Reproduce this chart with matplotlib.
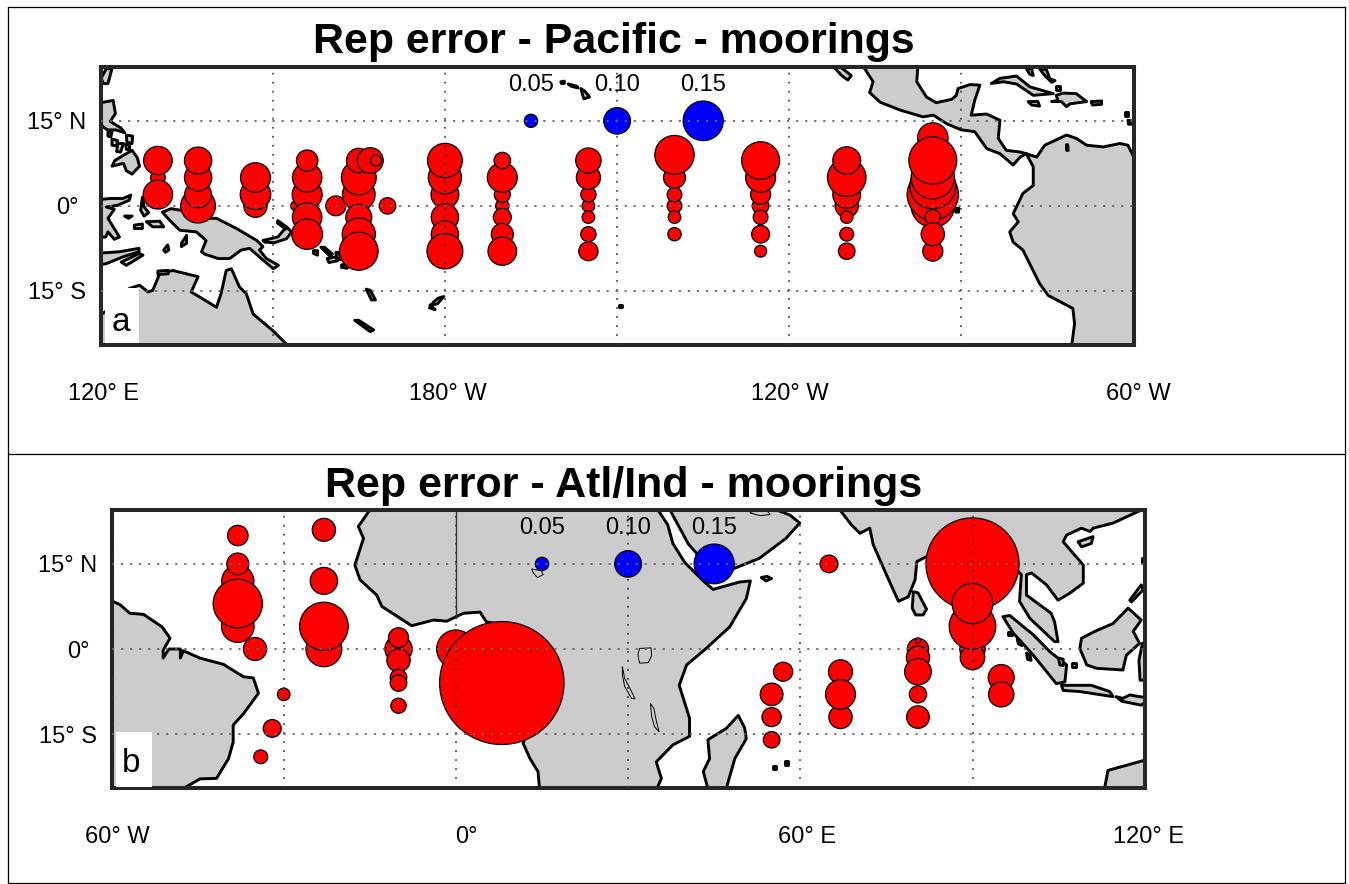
# Rep error maps for the Pacific and Atl/Ind moorings
import matplotlib
matplotlib.use('Agg')
import matplotlib.pyplot as plt
from matplotlib.lines import Line2D
from matplotlib.patches import Circle, Rectangle
from matplotlib.transforms import ScaledTranslation

plt.rcParams['font.family'] = ['Liberation Sans', 'DejaVu Sans']

W, H = 1349, 884
LAND = '#cccccc'
FRAME = '#262626'
ERR_TO_DEG = 23.3   # circle radius in degrees lon per unit of error

# Pacific moorings, in draw order
pac_lon = [130, 130, 130,
           137, 137, 137, 137,
           147, 147, 147,
           154, 161, 170,
           156, 156, 156, 156, 156,
           165, 165, 165, 165, 165, 165,
           167, 168,
           180, 180, 180, 180, 180, 180,
           190, 190, 190, 190, 190, 190, 190,
           205, 205, 205, 205, 205, 205, 205,
           220, 220, 220, 220, 220, 220,
           235, 235, 235, 235, 235, 235, 235,
           250, 250, 250, 250, 250, 250, 250,
           265, 265, 265, 265, 265, 265, 265, 265, 265]
pac_lat = [5, 8, 2,
           0, 2, 5, 8,
           0, 2, 5,
           0, 0, 0,
           2, 5, 8, -2, -5,
           2, 5, 8, -2, -5, -8,
           8, 8,
           2, 5, 8, -2, -5, -8,
           0, 2, 5, 8, -2, -5, -8,
           0, 2, 5, 8, -2, -5, -8,
           0, 2, 5, 9, -2, -5,
           0, 2, 5, 8, -2, -5, -8,
           0, 2, 5, 8, -2, -5, -8,
           0, 2, 3.5, 5, 12, 8, -2, -8, -5]
pac_err = [.055, .107, .110,
           .130, .100, .102, .102,
           .087, .114, .112,
           .037, .075, .062,
           .112, .110, .080, .110, .115,
           .122, .130, .092, .097, .124, .144,
           .097, .042,
           .104, .124, .130, .102, .102, .134,
           .050, .060, .112, .062, .067, .082, .107,
           .047, .057, .090, .095, .047, .057, .072,
           .055, .055, .082, .147, .047, .050,
           .062, .075, .112, .142, .055, .067, .045,
           .087, .104, .144, .104, .047, .052, .062,
           .162, .192, .172, .162, .114, .179, .057, .075, .087]

# Atlantic / Indian moorings, in draw order
atl_lon = [-38, -38, -38, -38, -38,
           -35,
           -23, -23, -23, -23,
           -30, -32, -34,
           -10, -10, -10, -10, -10, -10,
           0, 8,
           57, 55, 55, 55,
           65,
           67, 67, 67,
           80.5, 80.5, 80.5, 80.5, 80.5, 80.5,
           90, 90, 90, 90, 90,
           95, 95]
atl_lat = [4, 12, 20, 15, 8,
           0,
           0, 4, 12, 21,
           -8, -14, -19,
           0, 2, -2, -5, -6, -10,
           0, -6,
           -4, -8, -12, -16,
           15,
           -4, -12, -8,
           0, 1.5, -1.5, -4, -8, -12,
           0, -1.5, 15, 4, 8,
           -5, -8]
atl_err = [.122, .120, .077, .082, .184,
           .087,
           .134, .182, .102, .087,
           .047, .067, .052,
           .102, .075, .087, .062, .062, .057,
           .144, .465,
           .072, .085, .072, .062,
           .067,
           .090, .087, .112,
           .080, .020, .087, .100, .065, .085,
           .095, .092, .348, .174, .152,
           .097, .095]

# scale key
key_err = [0.05, 0.10, 0.15]
key_labels = ['0.05', '0.10', '0.15']
pac_key_lon = [195, 210, 225]
atl_key_lon = [15, 30, 45]
key_lat = 15

# Land for the Pacific panel (lon 120-300)
pac_land = [
    # Philippines
    [(119, 18), (122.2, 18.6), (122.6, 16.3), (121.7, 14.9), (123.6, 13.7), (124.2, 12.9), (122.7, 13.4),
     (121.2, 13.4), (120.4, 14), (119, 15.5)],
    [(124.5, 12.5), (125.6, 12.3), (125.5, 11), (124.6, 11.2)],
    [(122, 11.8), (123, 11.5), (122.8, 10.6), (122, 10.7)],
    [(123, 11), (124, 11), (123.5, 9.5), (122.8, 9.6)],
    [(124.2, 11), (125, 11), (125, 10), (124.4, 10)],
    [(121.3, 13), (122, 13), (121.8, 12.2), (121.3, 12.3)],
    [(123.3, 8.5), (125.5, 9.8), (126.4, 8.5), (126.8, 7), (125.5, 5.6), (124.5, 6.2), (124, 7.5), (122, 7), (122.5, 8)],
    [(120.1, 22.5), (121, 24.2), (122, 24.2), (121.3, 21.6), (120.5, 21.6)],
    [(119, 1.0), (121.6, 1.3), (123.9, 1.3), (125.3, 1.9), (125, 1), (123, 0.1), (121, -0.2), (122.4, -0.6),
     (121.3, -2.2), (122.2, -3.7), (123.3, -5.5), (122.4, -5.9), (121.3, -4.6), (120.9, -5.5), (119, -5.5)],
    [(127.3, 1.5), (127.6, -0.2), (128.4, -1.2), (127.6, -1.8), (127, -0.8)],
    [(124.2, -1.8), (125.5, -1.8), (124.9, -2.2)],
    [(125.9, -3.4), (127.3, -3.2), (127.3, -4), (125.9, -4)],
    [(128, -2.8), (130.3, -2.7), (131, -3.7), (129.1, -3.7)],
    [(134.1, -6.6), (135, -5.2), (135, -6.6), (134.1, -7.2)],
    [(131, -7.8), (131.7, -6.9), (131.9, -7.8), (131.3, -8.2)],
    [(119, -8.4), (123.3, -8.1), (126.7, -7.5), (126.7, -8.1), (123.9, -9), (121, -10.2), (119, -10.5)],
    [(123.6, -9.9), (126.8, -8.4), (127.4, -8.7), (124.5, -10.5)],
    # New Guinea
    [(130.8, -1.1), (132.3, -0.5), (134.1, -0.8), (135.8, -2.2), (140.2, -2.2), (143.7, -4), (147.2, -6.1),
     (148.3, -7.2), (147.7, -7.8), (148.9, -9.3), (151, -10.5), (150.1, -11.1), (148, -9.3), (146, -7.5),
     (144.5, -7.8), (142.5, -9.3), (140.5, -9.3), (138.1, -8.5), (137.6, -8.1), (138.4, -6.1), (136.7, -4.6),
     (133.8, -4.3), (132.3, -2.8), (131.2, -1.6)],
    [(148.3, -6.1), (150.9, -5.5), (152.4, -3.7), (153.3, -4.6), (152.4, -5.8), (150.3, -6.5), (148.6, -6.4)],
    [(150.9, -2.6), (152.5, -3.8), (152.3, -4.1), (150.8, -3)],
    [(157.1, -7.9), (157.8, -7.9), (157.8, -8.7), (157.1, -8.4)],
    [(158.4, -7.3), (159, -7.3), (160.4, -8.5), (160, -8.9)],
    [(159.5, -9.3), (161, -9.0), (161.3, -9.7), (159.8, -10)],
    [(161, -8.2), (161.6, -8.2), (161.8, -9.5), (161.2, -9.3)],
    [(162, -10.4), (163, -10.4), (163, -11), (162, -10.9)],
    [(166.3, -14.7), (167, -14.9), (167.9, -16.6), (167.2, -16.6)],
    [(177.4, -17.5), (178.7, -17.3), (179.8, -16), (178.8, -16.3), (178, -17), (177.3, -18), (178.3, -18.3)],
    [(164.3, -20.2), (165, -20.2), (167.6, -21.9), (167, -22.2)],
    # Australia
    [(125, -14.6), (126.8, -14), (128.3, -15.2), (129.1, -14.9), (130.3, -12), (132.6, -11.4), (137, -12.5),
     (135.8, -15.2), (137.8, -16.4), (140.2, -17.9), (141, -15.5), (141.9, -11.4), (142.8, -11.1), (144.2, -14.3),
     (145.4, -15.5), (146.6, -19.1), (150, -22), (152.4, -24.4), (152.4, -27), (119, -27), (119, -19.8),
     (122, -18), (122.5, -17)],
    [(130, -11.5), (131.8, -11.4), (131.8, -12), (130, -12.1)],
    # Hawaii, Tahiti
    [(200.2, 21.9), (200.8, 22), (200.8, 21.6), (200.3, 21.6)],
    [(201.5, 21.5), (203, 21.1), (203.2, 20.8), (202, 21.1)],
    [(203.7, 20.7), (204.4, 20.2), (205.2, 19.2), (204.2, 18.9), (203.9, 19.9)],
    [(210.4, -17.5), (210.9, -17.5), (210.9, -17.9), (210.4, -17.9)],
    # Baja
    [(247.7, 24.6), (248.8, 24.6), (250.8, 23), (250.2, 22.2), (249.1, 23)],
    # Americas
    [(252, 26), (254.6, 21.9), (254, 20), (255.8, 18.3), (259.3, 16.9), (263.3, 15.7), (265.1, 16), (267.4, 14.5),
     (270, 13.4), (272.3, 13.1), (274.4, 10.1), (276.7, 9.2), (279, 7.2), (280.2, 8.6), (281.3, 9.2), (282.5, 6.9),
     (282.5, 3.6), (280.7, 2.2), (279, -1.4), (279.9, -2.8), (278.4, -4.6), (279, -6.4), (280.7, -7.8),
     (283.6, -13.7), (285.1, -15.8), (289.4, -18.1), (289.7, -20.8), (289.2, -24.6), (289.2, -26), (301, -26),
     (301, 8.6), (300, 8.6), (299, 10.7), (297.6, 11), (294.7, 10.4), (291.8, 10.7), (290, 11.9), (288.3, 12.5),
     (284.5, 10.7), (283.1, 8.6), (281.3, 9.2), (280.2, 9.5), (277.8, 9.8), (276.4, 11.9), (276.7, 15.1),
     (274.4, 16.2), (271.7, 16), (272.3, 18.6), (273.2, 21.3), (271.5, 21.4), (269.4, 20.7), (269.1, 19.5),
     (268.3, 18.8), (265.6, 18.2), (263.9, 19.2), (262.2, 21.9), (262.5, 26)],
    [(288.3, 10.8), (288.5, 10.8), (288.6, 9.8), (288.3, 9.8)],
    # Caribbean
    [(275.2, 21.6), (276.7, 22.5), (279.6, 22.9), (281.9, 21), (286, 19.8), (282.5, 19.5), (279.6, 21.5), (277.3, 21.9)],
    [(286.5, 19.5), (287.7, 19.9), (290, 19.8), (291.8, 18.4), (288.9, 18), (288.3, 17.5), (287.4, 18.4), (285.7, 18.4), (286.8, 18.6)],
    [(281.6, 18.4), (283.3, 18.4), (283.6, 17.6), (282.2, 17.8)],
    [(292.6, 18.4), (294.4, 18.5), (294.4, 17.9), (292.8, 17.8)],
    [(281.3, 24.2), (282.2, 24.2), (282.5, 23), (281.9, 23.2)],
    [(283.6, 24.2), (284.8, 24), (285.4, 22.4), (286.3, 22.1), (285.7, 21.8), (284.5, 23)],
    [(286.5, 21.2), (287.2, 21.2), (287.2, 20.4), (286.5, 20.4)],
    [(298.4, 16.5), (299, 16.5), (299, 15.8), (298.4, 15.8)],
    [(299, 15.1), (299.6, 15), (299.6, 14.4), (299.1, 14.4)],
    [(268.9, -0.5), (269.5, -0.4), (269.5, -1.1), (269, -1.1)],
]

# Land for the Atlantic / Indian panel (lon -60 to 120)
atl_land = [
    # South America
    [(-61, 8.5), (-60, 8.5), (-58.5, 7.8), (-56.8, 6.3), (-54.4, 6.1), (-51.2, 3.9), (-49.8, 1.9), (-51, -0.2),
     (-51, -1.6), (-50, 0), (-48, 0), (-48, -1.6), (-47.5, -0.3), (-44.6, -1.6), (-40.5, -2.7), (-37, -4.9),
     (-35.3, -5.1), (-34.4, -7.8), (-37, -11.4), (-38.8, -13.4), (-38.8, -16.4), (-39.6, -19.3), (-41.7, -22.8),
     (-44.6, -22.9), (-47.5, -24.6), (-47.5, -26), (-61, -26)],
    # Africa
    [(-15, 26), (-15, 24.5), (-17, 21.6), (-16.1, 19.5), (-17.6, 14.8), (-16.7, 12.2), (-13.8, 9.5), (-12.9, 7.5),
     (-7.7, 4.1), (-3.9, 5.1), (-1.6, 4.9), (1.3, 6.3), (4.2, 6.5), (5.3, 4.8), (9, 4), (9.5, 1), (9, -1), (11, -4),
     (12, -6), (13.5, -9), (13.5, -12), (11.7, -16.6), (12.9, -19.3), (14.3, -21.6), (14.6, -24.9), (14.6, -26),
     (34.9, -26), (34.9, -24.9), (35.8, -22.8), (34.9, -19.9), (37.8, -16.9), (40.7, -15.4), (40.7, -12.2),
     (39.9, -9.6), (38.9, -6.4), (40.2, -2.8), (43.6, 0.1), (47.7, 3.9), (50.6, 8.9), (51.3, 12), (49.4, 11.8),
     (44.8, 10.5), (43.1, 12), (39.9, 15.2), (37.8, 18.6), (36.9, 21.9), (35.2, 24.5), (35, 26)],
    # Arabia
    [(37, 26), (37.3, 24.5), (39, 21.3), (40.5, 18.5), (41.9, 16.9), (43, 13), (45, 12.8), (48, 14), (52.9, 16),
     (57.5, 19.5), (59.9, 22.2), (58.2, 23.6), (55.9, 24.5), (55, 26)],
    [(43.9, -16), (47.1, -14), (49.2, -11.7), (50.3, -13.9), (50.6, -15.8), (48.6, -19.3), (47.1, -24.6),
     (46.8, -26), (44, -26), (43.9, -24.6), (43.1, -21.6), (44.2, -19.3)],
    [(53.2, 12.6), (54.2, 12.8), (55, 12.4), (54, 12)],
    [(55.2, -20.7), (55.8, -20.7), (55.8, -21.2), (55.2, -21.2)],
    [(57.3, -19.8), (57.9, -19.8), (57.9, -20.4), (57.3, -20.4)],
    # Asia
    [(66.9, 26), (66.9, 24.5), (68.9, 21.9), (70.4, 20.4), (72.1, 21.3), (72.7, 18.4), (75, 13.1), (77.1, 8.4),
     (78.8, 9.2), (80, 12.2), (80.3, 15.4), (82, 16.3), (85.5, 20.7), (89, 21.3), (92.4, 19.5), (98.5, 13.1),
     (98.2, 8.4), (100, 5.4), (104.3, 1.3), (104.9, 1.3), (104.3, 4.8), (103.7, 6.3), (99.4, 9.5), (99.4, 13.1),
     (100.3, 13.4), (102.9, 11.3), (104.9, 8.6), (106.9, 9.8), (109.3, 11.6), (109.3, 14.8), (105.8, 18.9),
     (106.4, 20.1), (109, 21.3), (110.5, 20.7), (111, 21.3), (114.5, 22.2), (119.4, 24.5), (120, 26)],
    [(108.4, 18.9), (111, 19.8), (110.7, 18.6), (109, 18)],
    [(79.7, 10.1), (80.5, 9.9), (82, 7), (81.4, 6), (80.1, 6), (79.5, 7.2)],
    # Indonesia
    [(95.3, 5.7), (96.5, 5.9), (100.6, 2.5), (103.5, -0.5), (106.4, -2.8), (106.1, -5.8), (104.6, -6.1), (100.6, -1.1), (97.1, 2.8)],
    [(105.5, -6.4), (110.7, -6.4), (113.9, -7.5), (114.5, -8.4), (108.7, -7.5), (105.8, -7.3)],
    [(115, -8.4), (116.2, -8.7), (117.4, -8.1), (119.1, -8.4), (121, -8.7), (119.4, -9.9), (116, -9.2)],
    [(109, 1.9), (111.3, 3.1), (114.5, 4.5), (117.1, 7.2), (119.4, 5.1), (118, 3.1), (119.1, 1), (116.8, -1.1),
     (116.2, -3.7), (111.6, -3.4), (109.9, -2.8), (108.7, 0.1)],
    [(117.4, 8.6), (119.4, 11.3), (119.7, 10.4), (117.7, 8.3)],
    [(119.6, 1), (119, -2), (119.2, -5.5), (121, -5.5), (121, 1)],
    [(113, -26), (113, -24.6), (113.6, -21.4), (116.8, -20.5), (120, -19.6), (121, -19.6), (121, -26)],
    [(119.6, 16), (120.5, 16), (120.5, 15.2), (119.6, 15.2)],
    [(96.2, 3), (96.8, 3), (96.8, 2.4), (96.2, 2.4)],
    [(97.8, 1.7), (98.4, 1.4), (98.6, 0.6), (98, 0.9)],
    [(99.4, -0.7), (100, -1), (100.2, -2), (99.6, -1.8)],
    [(105, -1.6), (105.8, -1.8), (105.8, -2.9), (105.2, -2.8)],
    [(107.3, -2.4), (108.1, -2.4), (108.1, -3.2), (107.4, -3.2)],
]

# Lakes, drawn with a thin outline
atl_lakes = [
    [(32, 0.1), (34, 0.2), (34.1, -1.2), (33.5, -2.4), (32, -2.5), (31.7, -1)],
    [(29, -3.1), (29.4, -5.2), (30.6, -7.5), (31.2, -8.8), (30.6, -8.7), (29.4, -6.6), (29, -4.6)],
    [(33.9, -9.6), (34.5, -10.5), (34.9, -12.6), (35.4, -14.6), (34.6, -13.7), (34.1, -11.9)],
    [(13.2, 14.1), (14.9, 13.8), (15.2, 13.1), (14.2, 12.6), (13.5, 13.4)],
    [(51.2, 24), (52, 24.4), (54.4, 24.2), (54.7, 23.7), (53, 23.5)],
]

lat_ticks = [-15, 0, 15]
lat_labels = ['15° S', '0°', '15° N']


def make_axes(left, right, top, bottom):
    ax = fig.add_axes([left / W, 1 - bottom / H, (right - left) / W, (bottom - top) / H])
    ax.set_ylim(-24.5, 24.5)
    for sp in ax.spines.values():
        sp.set_color(FRAME)
        sp.set_linewidth(2.9)
    ax.set_axisbelow(False)
    ax.grid(True, axis='x', color='#333333', linewidth=1.1, linestyle=(0, (1.2, 4.7)))
    ax.grid(True, axis='y', color='#666666', linewidth=1.3, linestyle=(0, (1.2, 3.8)))
    ax.tick_params(length=0, labelsize=17)
    ax.tick_params(axis='x', pad=27.5)
    ax.tick_params(axis='y', pad=10.5)
    ax.set_yticks(lat_ticks)
    ax.set_yticklabels(lat_labels)
    # the 0 label sits further from the axis than the other two
    zero = ax.get_yticklabels()[1]
    zero.set_transform(zero.get_transform() + ScaledTranslation(-7 / 100, 0, fig.dpi_scale_trans))
    return ax


def shift_xlabels(ax, shifts):
    for lab, dx in zip(ax.get_xticklabels(), shifts):
        lab.set_transform(lab.get_transform() + ScaledTranslation(dx / 100, 0, fig.dpi_scale_trans))


def draw_land(ax, polys):
    for poly in polys:
        xs, ys = zip(*poly)
        ax.fill(xs, ys, facecolor=LAND, edgecolor='black', linewidth=2.1, joinstyle='round', zorder=1)


def draw_circles(ax, lons, lats, errs, color):
    for lon, lat, err in zip(lons, lats, errs):
        ax.add_patch(Circle((lon, lat), err * ERR_TO_DEG, facecolor=color, edgecolor='black',
                            linewidth=0.9, zorder=2))


def draw_key(ax, lons):
    draw_circles(ax, lons, [key_lat] * 3, key_err, '#0000ff')
    for lon, label in zip(lons, key_labels):
        ax.text(lon, 21.4, label, fontsize=17, ha='center', va='center', zorder=4)


fig = plt.figure(figsize=(W / 100, H / 100), dpi=100)

# Top panel
ax1 = make_axes(100.5, 1133.7, 67, 344.7)
ax1.set_xlim(120, 300)
ax1.set_xticks([120, 150, 180, 210, 240, 270, 300])
ax1.set_xticklabels(['120° E', '', '180° W', '', '120° W', '', '60° W'])
shift_xlabels(ax1, [3.5, 0, 2.5, 0, 1, 0, 4.5])
draw_land(ax1, pac_land)
draw_circles(ax1, pac_lon, pac_lat, pac_err, '#ff0000')
draw_key(ax1, pac_key_lon)
ax1.add_patch(Rectangle((120.8, -24.2), 5.9, 9.7, facecolor='white', edgecolor='none', zorder=3))
ax1.text(123.6, -20.5, 'a', fontsize=24, ha='center', va='center', zorder=4)

# Bottom panel
ax2 = make_axes(111.5, 1144.7, 510, 788)
ax2.set_xlim(-60, 120)
ax2.set_xticks([-60, -30, 0, 30, 60, 90, 120])
ax2.set_xticklabels(['60° W', '', '0°', '', '60° E', '', '120° E'])
shift_xlabels(ax2, [6, 0, 10, 0, 7, 0, 4])
draw_land(ax2, atl_land)
for poly in atl_lakes:
    lake_x, lake_y = zip(*poly)
    ax2.fill(lake_x, lake_y, facecolor=LAND, edgecolor='black', linewidth=0.7, zorder=1.1)
ax2.plot([0, 0], [5.5, 24.5], color='#333333', linewidth=1.0, zorder=1.2)
draw_circles(ax2, atl_lon, atl_lat, atl_err, '#ff0000')
draw_key(ax2, atl_key_lon)
ax2.add_patch(Rectangle((-59.2, -24.3), 6.3, 9.6, facecolor='white', edgecolor='none', zorder=3))
ax2.text(-56.5, -20.2, 'b', fontsize=24, ha='center', va='center', zorder=4)

# Titles
fig.text(614 / W, 1 - 53 / H, 'Rep error - Pacific - moorings', fontsize=30.9, fontweight='bold',
         ha='center', va='baseline')
fig.text(623.5 / W, 1 - 497 / H, 'Rep error - Atl/Ind - moorings', fontsize=31, fontweight='bold',
         ha='center', va='baseline')

# Outer box around both panels
for x0, y0, x1, y1 in [(8, 7, 1345, 7), (8, 454, 1345, 454), (8, 883, 1345, 883), (8, 7, 8, 883), (1345, 7, 1345, 883)]:
    fig.add_artist(Line2D([x0 / W, x1 / W], [1 - y0 / H, 1 - y1 / H], color='black', linewidth=0.9))

fig.savefig('out.png', dpi=100)
